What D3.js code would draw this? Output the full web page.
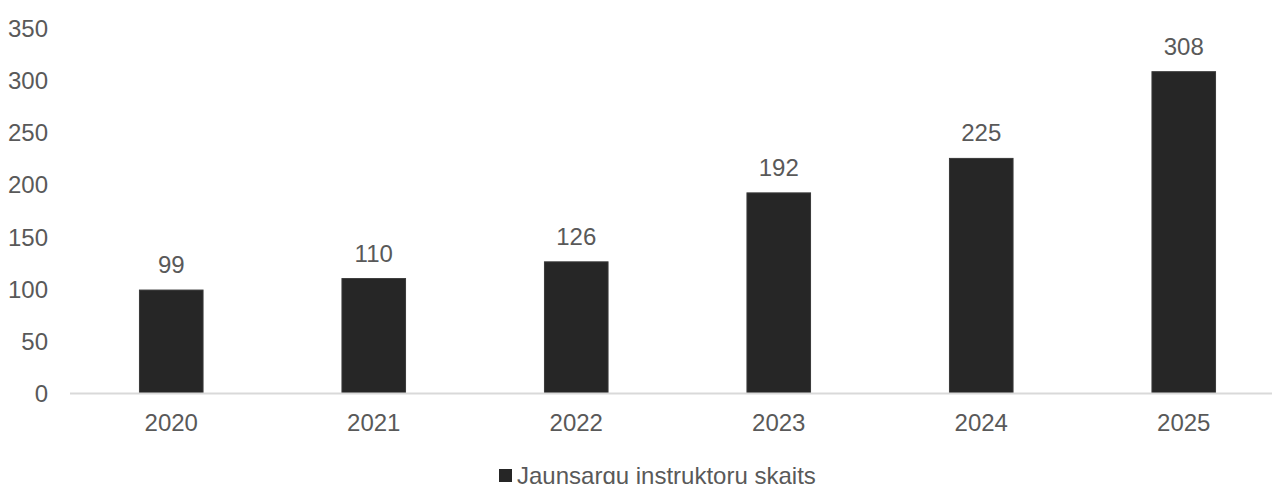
<!DOCTYPE html>
<html>
<head>
<meta charset="utf-8">
<script src="https://cdn.jsdelivr.net/npm/d3@7"></script>
<style>
  html, body { margin: 0; padding: 0; background: #fff; }
  svg { display: block; font-family: "Liberation Sans", Arial, sans-serif; }
</style>
</head>
<body>
<svg id="chart" width="1272" height="484"></svg>
<script>
// data
var years = ['2020', '2021', '2022', '2023', '2024', '2025'];
var instructors = [99, 110, 126, 192, 225, 308];
var yTicks = [0, 50, 100, 150, 200, 250, 300, 350];
var seriesName = 'Jaunsargu instruktoru skaits';

var width = 1272;
var height = 484;
var textColor = '#595959';
var barColor = '#262626';

var svg = d3.select('#chart');

var x = d3.scaleBand()
  .domain(years)
  .range([70, 1285])
  .paddingInner(0.686)
  .paddingOuter(0.343);

var y = d3.scaleLinear()
  .domain([0, 350])
  .range([393.5, 27.8]);

// y tick labels (no gridlines in the original)
svg.append('g')
  .selectAll('text')
  .data(yTicks)
  .enter()
  .append('text')
  .attr('x', 48)
  .attr('y', function (d) { return y(d); })
  .attr('dy', '0.37em')
  .attr('text-anchor', 'end')
  .attr('fill', textColor)
  .style('font-size', '24px')
  .text(function (d) { return d; });

// bars
var data = years.map(function (yr, i) { return { year: yr, value: instructors[i] }; });

svg.append('g')
  .selectAll('rect')
  .data(data)
  .enter()
  .append('rect')
  .attr('x', function (d) { return x(d.year); })
  .attr('y', function (d) { return y(d.value); })
  .attr('width', x.bandwidth())
  .attr('height', function (d) { return y(0) - y(d.value); })
  .attr('fill', barColor)
  .attr('stroke', '#3a3a3a')
  .attr('stroke-width', 1);

// baseline
svg.append('line')
  .attr('x1', 70)
  .attr('x2', 1285)
  .attr('y1', y(0))
  .attr('y2', y(0))
  .attr('stroke', '#d9d9d9')
  .attr('stroke-width', 2);

// value labels
svg.append('g')
  .selectAll('text')
  .data(data)
  .enter()
  .append('text')
  .attr('x', function (d) { return x(d.year) + x.bandwidth() / 2; })
  .attr('y', function (d) { return y(d.value) - 17; })
  .attr('text-anchor', 'middle')
  .attr('fill', textColor)
  .style('font-size', '24px')
  .text(function (d) { return d.value; });

// x labels
svg.append('g')
  .selectAll('text')
  .data(years)
  .enter()
  .append('text')
  .attr('x', function (d) { return x(d) + x.bandwidth() / 2; })
  .attr('y', 431)
  .attr('text-anchor', 'middle')
  .attr('fill', textColor)
  .style('font-size', '24px')
  .text(function (d) { return d; });

// legend
var legend = svg.append('g').attr('transform', 'translate(499,469)');
legend.append('rect')
  .attr('width', 13)
  .attr('height', 13)
  .attr('fill', barColor);
legend.append('text')
  .attr('x', 18)
  .attr('y', 15)
  .attr('fill', textColor)
  .style('font-size', '24px')
  .text(seriesName);
</script>
</body>
</html>
